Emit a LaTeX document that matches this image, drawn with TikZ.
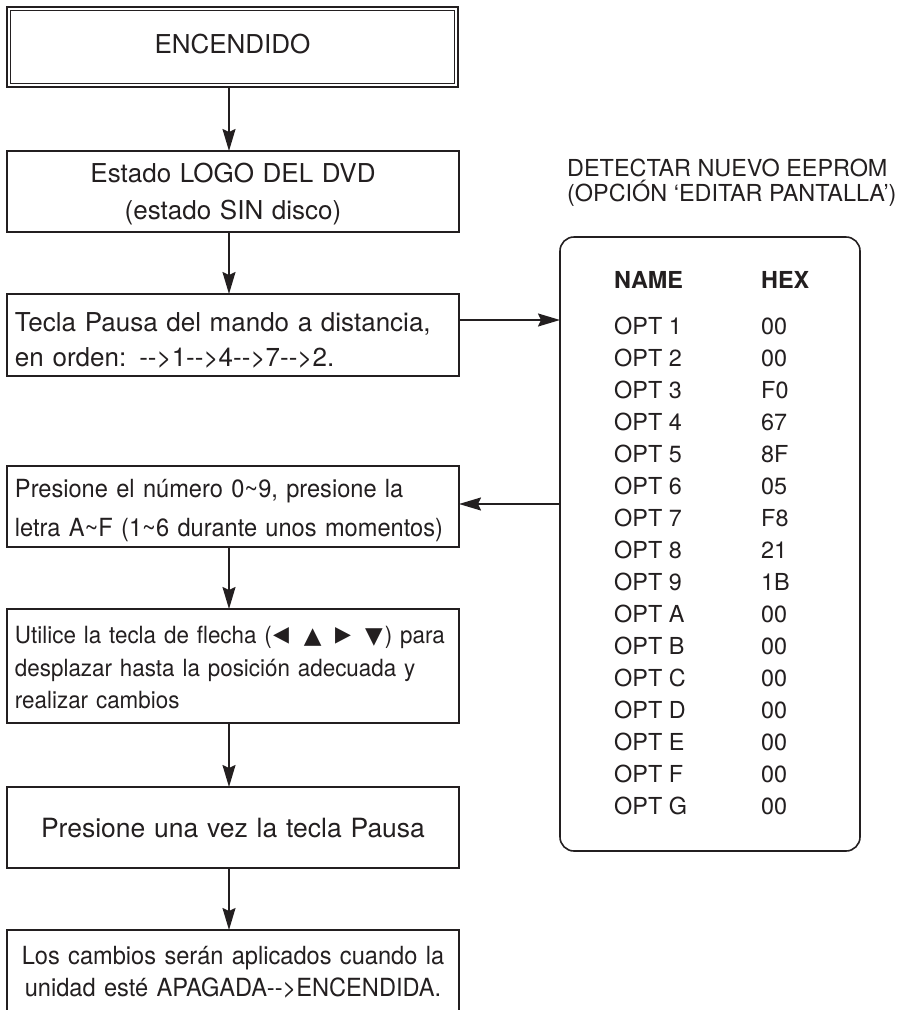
\documentclass[tikz,border=0pt]{standalone}
\usepackage{fontspec}
\setmainfont{TeX Gyre Heros}
\newfontfamily\condfont[FakeStretch=0.945]{TeX Gyre Heros}
\newfontfamily\symfont{DejaVu Sans}
\usetikzlibrary{arrows.meta}
\definecolor{ink}{HTML}{231F20}
% arrow-key glyphs used in the cursor instruction
\newcommand{\keyglyph}[1]{\raisebox{-0.5pt}{\scalebox{0.9}[1.45]{#1}}}

\begin{document}
\begin{tikzpicture}[x=1pt,y=-1pt,
  box/.style={draw=ink, line width=1.4pt, text=ink, inner xsep=8pt, inner ysep=0pt,
              outer sep=0pt, minimum width=452pt, text width=436pt},
  flow/.style={draw=ink, line width=1.7pt, -{Stealth[length=22pt,width=13pt,inset=3pt]}},
  cell/.style={anchor=base west, inner sep=0pt, text=ink, font=\fontsize{23.4}{28}\selectfont},
  head/.style={cell, font=\bfseries\fontsize{23.4}{28}\selectfont}]

\useasboundingbox (0,0) rectangle (904,1010);

% flow column and side-arrow levels
\coordinate (axis) at (229,0);
\coordinate (rgo) at (0,320);
\coordinate (lgo) at (0,504);

% power-on box with a double frame
\node[box, minimum width=451pt, text width=435pt, minimum height=80pt, line width=2.4pt,
      align=center, font=\fontsize{26}{30}\selectfont, text height=12.7pt, text depth=0pt]
      (b1) at (232.5,47) {ENCENDIDO};
\draw[ink, line width=0.9pt] ([shift={(3.5pt,-3.5pt)}]b1.north west) rectangle ([shift={(-3.5pt,3.5pt)}]b1.south east);

\node[box, minimum height=81pt, align=center, font=\fontsize{26}{37}\selectfont,
      text height=18.7pt, text depth=37pt]
      (b2) at (233,191.5) {Estado LOGO DEL DVD\\(estado SIN disco)};

\node[box, minimum height=82pt, align=left, font=\fontsize{26}{35}\selectfont,
      text height=27.7pt, text depth=35pt]
      (b3) at (233,335) {Tecla Pausa del mando a distancia,\\en orden: -{}->1-{}->4-{}->7-{}->2.};

\node[box, minimum height=81pt, align=left, font=\condfont\fontsize{25}{39}\selectfont,
      text height=20pt, text depth=39pt]
      (b4) at (233,506.5) {Presione el número 0\char`~9, presione la\\letra A\char`~F (1\char`~6 durante unos momentos)};

\node[box, minimum height=114pt, align=left, font=\condfont\fontsize{23.7}{32.5}\selectfont,
      text height=20.1pt, text depth=65pt]
      (b5) at (233,666) {\mbox{Utilice la tecla de flecha ({\symfont\fontsize{23}{23}\selectfont\hspace{2pt}\keyglyph{◄}\hspace{6pt} ▲\hspace{6pt} \keyglyph{►}\hspace{6pt} ▼\hspace{2pt}}) para}\\desplazar hasta la posición adecuada y\\realizar cambios};

\node[box, minimum height=81pt, align=center, font=\fontsize{26.5}{30}\selectfont,
      text height=19.7pt, text depth=0pt]
      (b6) at (233,827.5) {Presione una vez la tecla Pausa};

\node[box, minimum height=82pt, align=center, font=\condfont\fontsize{25}{32}\selectfont,
      text height=18pt, text depth=32pt]
      (b7) at (233,971) {Los cambios serán aplicados cuando la\\unidad esté APAGADA-{}->ENCENDIDA.};

% EEPROM option table
\node[draw=ink, line width=1.6pt, rounded corners=14pt, minimum width=300pt,
      minimum height=614pt, inner sep=0pt, outer sep=0pt] (tbl) at (710,544) {};
\node[cell] (ttl1) at (567,176.7) {DETECTAR NUEVO EEPROM};
\node[cell] (ttl2) at (567,201.2) {(OPCIÓN ‘EDITAR PANTALLA’)};
\node[head] (hname) at (614,288.4) {NAME};
\node[head] (hhex) at (761,288.4) {HEX};
\foreach \o/\h [count=\i from 0] in {1/00,2/00,3/F0,4/67,5/8F,6/05,7/F8,8/21,9/1B,
                                     A/00,B/00,C/00,D/00,E/00,F/00,G/00}{
  \node[cell] (opt\o) at (614,{334.4+32*\i}) {OPT \o};
  \node[cell] (hex\o) at (761,{334.4+32*\i}) {\h};
}

% connectors
\draw[flow] (b1.south -| axis) -- (b2.north -| axis);
\draw[flow] (b2.south -| axis) -- (b3.north -| axis);
\draw[flow] (b3.east |- rgo) -- (tbl.west |- rgo);
\draw[flow] (tbl.west |- lgo) -- (b4.east |- lgo);
\draw[flow] (b4.south -| axis) -- (b5.north -| axis);
\draw[flow] (b5.south -| axis) -- (b6.north -| axis);
\draw[flow] (b6.south -| axis) -- (b7.north -| axis);
\end{tikzpicture}
\end{document}
